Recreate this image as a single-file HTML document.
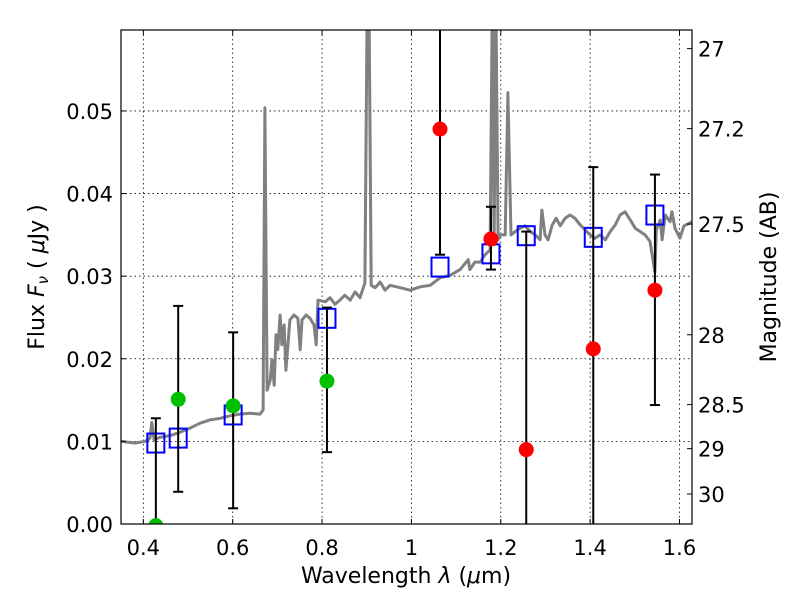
<!DOCTYPE html>
<html><head><meta charset="utf-8"><style>
html,body{margin:0;padding:0;background:#fff;overflow:hidden;width:800px;height:600px;}
svg{display:block;}
svg text{font-family:"DejaVu Sans","Liberation Sans",sans-serif;}
</style></head><body>
<svg id="chart" width="800" height="600" xmlns="http://www.w3.org/2000/svg">
<defs><clipPath id="clip"><rect x="121" y="30" width="571" height="494"/></clipPath></defs>
<rect width="800" height="600" fill="#fff"/>
<g id="grid"></g>
<g id="plot" clip-path="url(#clip)"></g>
<rect x="121" y="30" width="571" height="494" fill="none" stroke="#000" stroke-width="1.2"/>
<g id="axes"></g>
<text x="406" y="583" font-size="22" text-anchor="middle">Wavelength  <tspan font-style="italic">λ</tspan> (<tspan font-style="italic">μ</tspan>m)</text>
<text transform="translate(44,277) rotate(-90)" font-size="22" text-anchor="middle">Flux  <tspan font-style="italic">F</tspan><tspan font-style="italic" font-size="15" dy="4">ν</tspan><tspan dy="-4">  ( </tspan><tspan font-style="italic">μ</tspan>Jy )</text>
<text transform="translate(776,277) rotate(-90)" font-size="22" text-anchor="middle">Magnitude (AB)</text>
</svg>
<script>
const specWl=[0.350,0.381,0.404,0.415,0.419,0.424,0.437,0.460,0.482,0.504,0.527,0.549,0.572,0.594,0.616,0.639,0.661,0.668,0.672,0.677,0.684,0.688,0.693,0.697,0.701,0.706,0.710,0.715,0.719,0.728,0.737,0.746,0.751,0.755,0.764,0.773,0.782,0.787,0.791,0.807,0.818,0.829,0.840,0.851,0.863,0.874,0.885,0.896,0.901,0.905,0.910,0.919,0.930,0.941,0.952,0.975,0.997,1.019,1.042,1.064,1.087,1.109,1.127,1.131,1.142,1.154,1.165,1.176,1.181,1.185,1.189,1.194,1.198,1.210,1.216,1.223,1.232,1.243,1.254,1.266,1.277,1.288,1.292,1.299,1.306,1.315,1.324,1.333,1.344,1.355,1.366,1.378,1.389,1.400,1.411,1.422,1.434,1.445,1.456,1.467,1.478,1.490,1.501,1.512,1.523,1.534,1.545,1.548,1.557,1.561,1.568,1.579,1.583,1.590,1.601,1.610,1.629];
const specFlux=[0.0100,0.0098,0.0100,0.0104,0.0123,0.0102,0.0105,0.0107,0.0111,0.0116,0.0122,0.0126,0.0128,0.0131,0.0133,0.0134,0.0133,0.0138,0.0504,0.0162,0.0174,0.0199,0.0168,0.0229,0.0211,0.0253,0.0217,0.0241,0.0186,0.0247,0.0253,0.0249,0.0211,0.0247,0.0253,0.0249,0.0241,0.0217,0.0271,0.0269,0.0274,0.0266,0.0271,0.0277,0.0271,0.0281,0.0274,0.0292,0.0634,0.0634,0.0289,0.0286,0.0293,0.0283,0.0289,0.0286,0.0283,0.0287,0.0289,0.0298,0.0301,0.0308,0.0320,0.0308,0.0317,0.0317,0.0326,0.0332,0.0634,0.0338,0.0634,0.0344,0.0350,0.0350,0.0522,0.0350,0.0354,0.0358,0.0361,0.0354,0.0350,0.0344,0.0380,0.0350,0.0344,0.0362,0.0370,0.0361,0.0370,0.0374,0.0370,0.0362,0.0356,0.0350,0.0346,0.0350,0.0344,0.0354,0.0362,0.0374,0.0378,0.0368,0.0358,0.0354,0.0350,0.0342,0.0305,0.0356,0.0368,0.0344,0.0374,0.0366,0.0378,0.0358,0.0346,0.0361,0.0366];
const greenWl=[0.428,0.478,0.601,0.811];
const greenFlux=[-0.0002,0.0151,0.0143,0.0173];
const greenLo=[-0.013,0.0039,0.0019,0.0087];
const greenHi=[0.0128,0.0264,0.0232,0.0262];
const redWl=[1.064,1.178,1.257,1.407,1.545];
const redFlux=[0.0478,0.0345,0.0090,0.0212,0.0283];
const redLo=[0.0326,0.0308,-0.02,-0.02,0.0144];
const redHi=[0.07,0.0384,0.0354,0.0432,0.0423];
const modelWl=[0.428,0.478,0.601,0.811,1.064,1.178,1.257,1.407,1.545];
const modelFlux=[0.0098,0.0104,0.0132,0.0249,0.0311,0.0327,0.0349,0.0347,0.0374];
const xTicks=[0.4,0.6,0.8,1.0,1.2,1.4,1.6];
const xTickLabels=["0.4","0.6","0.8","1","1.2","1.4","1.6"];
const yTicks=[0,0.01,0.02,0.03,0.04,0.05];
const yTickLabels=["0.00","0.01","0.02","0.03","0.04","0.05"];
const magTicks=[27,27.2,27.5,28,28.5,29,30];
const magTickLabels=["27","27.2","27.5","28","28.5","29","30"];

const X0=121,X1=692,Y0=524,Y1=30,XMIN=0.35,XMAX=1.628,YMIN=0,YMAX=0.0598;
function sx(v){return X0+(v-XMIN)/(XMAX-XMIN)*(X1-X0);}
function sy(v){return Y0-(v-YMIN)/(YMAX-YMIN)*(Y0-Y1);}
function magToFlux(m){return Math.pow(10,(23.9-m)/2.5);}
const NS="http://www.w3.org/2000/svg";
function mk(tag,attrs,parent){const e=document.createElementNS(NS,tag);for(const k in attrs)e.setAttribute(k,attrs[k]);parent.appendChild(e);return e;}
const grid=document.getElementById('grid'),plot=document.getElementById('plot'),axes=document.getElementById('axes');

xTicks.forEach((t,i)=>{
  const x=sx(t);
  const g=mk('line',{x1:x,x2:x,y1:Y1,y2:Y0,stroke:'#000','stroke-width':0.8,'stroke-dasharray':'1.5,3'},grid);
  
  
  mk('line',{x1:x,x2:x,y1:Y0,y2:Y0-5,stroke:'#000'},axes);
  mk('line',{x1:x,x2:x,y1:Y1,y2:Y1+5,stroke:'#000'},axes);
  const tx=mk('text',{x:x,y:555,'font-size':21,'text-anchor':'middle'},axes);
  tx.textContent=xTickLabels[i];
  
  
});
yTicks.forEach((t,i)=>{
  const y=sy(t);
  const g=mk('line',{x1:X0,x2:X1,y1:y,y2:y,stroke:'#000','stroke-width':0.8,'stroke-dasharray':'1.5,3'},grid);
  
  
  mk('line',{x1:X0,x2:X0+5,y1:y,y2:y,stroke:'#000'},axes);
  const tx=mk('text',{x:113,y:y+8,'font-size':21,'text-anchor':'end'},axes);
  tx.textContent=yTickLabels[i];
  
  
});
magTicks.forEach((m,i)=>{
  const y=sy(magToFlux(m));
  mk('line',{x1:X1,x2:X1-5,y1:y,y2:y,stroke:'#000'},axes);
  const tx=mk('text',{x:698,y:y+8,'font-size':21,'text-anchor':'start'},axes);
  tx.textContent=magTickLabels[i];
  
  
});

let d=specWl.map((w,i)=>(i?'L':'M')+sx(w).toFixed(1)+','+sy(specFlux[i]).toFixed(1)).join('');
const sp=mk('path',{d:d,fill:'none',stroke:'#808080','stroke-width':3,'stroke-linejoin':'round'},plot);



modelWl.forEach((w,i)=>{
  const r=mk('rect',{x:sx(w)-8.5,y:sy(modelFlux[i])-9.5,width:17,height:19,fill:'none',stroke:'#0000ff','stroke-width':2},plot);
  
  
});
function errbar(w,lo,hi){
  const x=sx(w);
  const g=mk('g',{},plot);
  
  
  mk('line',{x1:x,x2:x,y1:sy(lo),y2:sy(hi),stroke:'#000','stroke-width':2},g);
  mk('line',{x1:x-5,x2:x+5,y1:sy(lo),y2:sy(lo),stroke:'#000','stroke-width':2},g);
  mk('line',{x1:x-5,x2:x+5,y1:sy(hi),y2:sy(hi),stroke:'#000','stroke-width':2},g);
}
greenWl.forEach((w,i)=>{
  errbar(w,greenLo[i],greenHi[i]);
  const c=mk('circle',{cx:sx(w),cy:sy(greenFlux[i]),r:7.5,fill:'#00c000'},plot);
  
  
});
redWl.forEach((w,i)=>{
  errbar(w,redLo[i],redHi[i]);
  const c=mk('circle',{cx:sx(w),cy:sy(redFlux[i]),r:7.5,fill:'#ff0000'},plot);
  
  
});
</script>
</body></html>
